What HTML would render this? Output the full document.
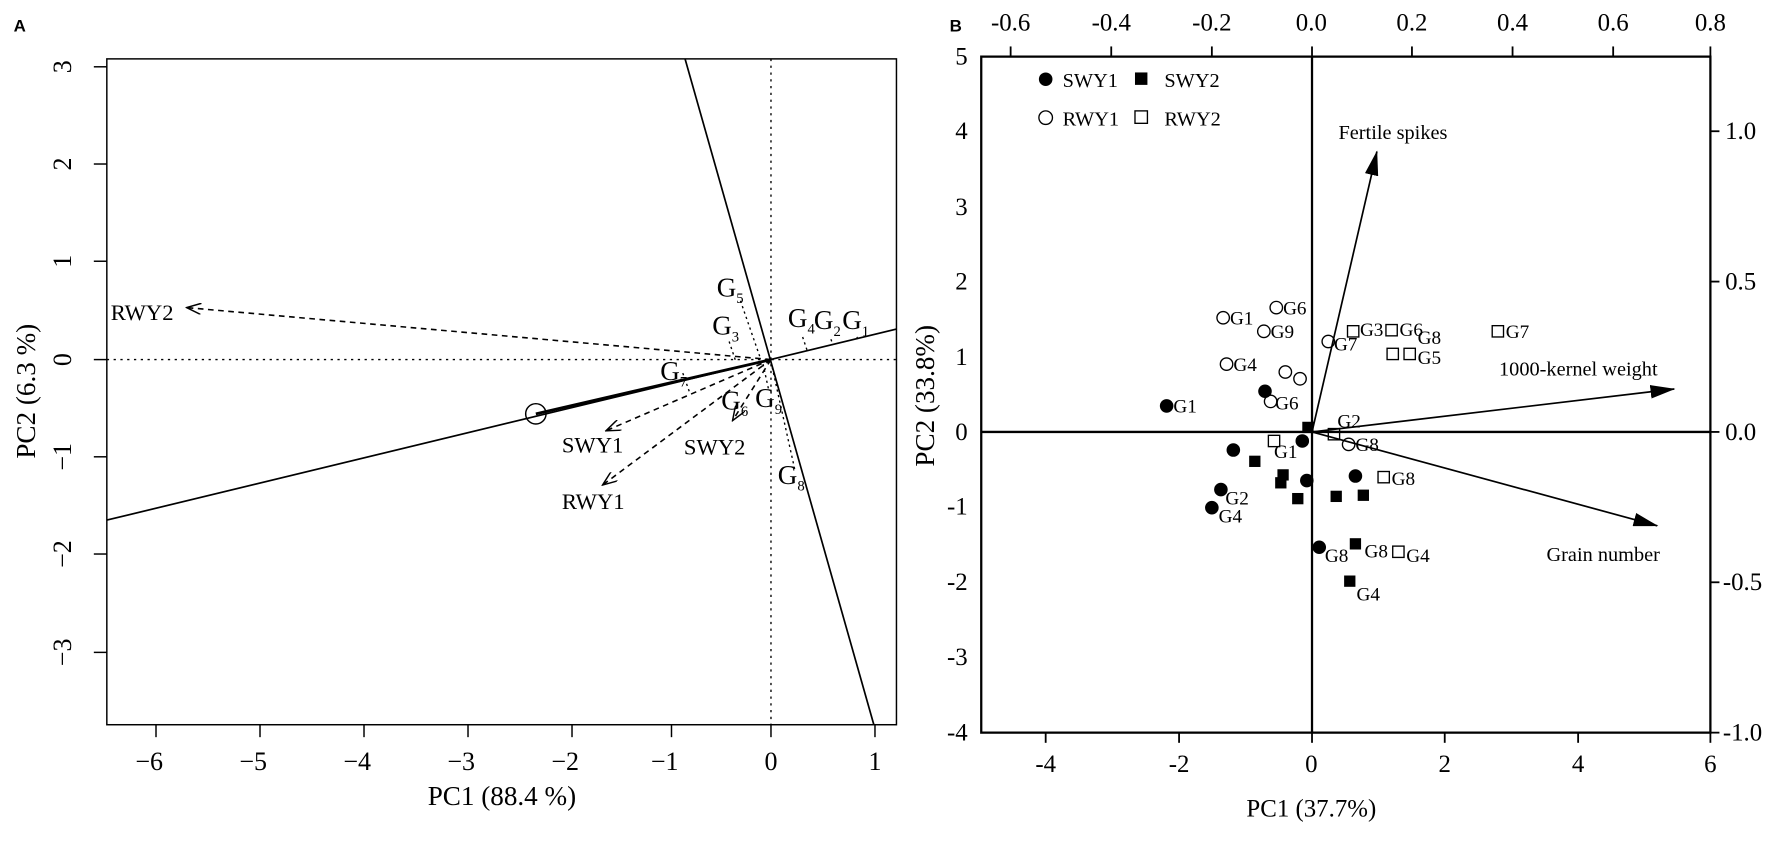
<!DOCTYPE html>
<html><head><meta charset="utf-8"><style>html,body{margin:0;padding:0;background:#fff;overflow:hidden}</style></head>
<body>
<svg width="1772" height="839" viewBox="0 0 1567.5 742" xmlns="http://www.w3.org/2000/svg" font-family="'Liberation Serif',serif">
<defs>
<marker id="oa" markerWidth="14" markerHeight="10" refX="13" refY="5" orient="auto" markerUnits="userSpaceOnUse"><path d="M0,0 L13,5 L0,10" fill="none" stroke="#000" stroke-width="1.3"/></marker>
<marker id="fa" markerWidth="22" markerHeight="12" refX="21" refY="6" orient="auto" markerUnits="userSpaceOnUse"><path d="M0,0 L22,6 L0,12 Z" fill="#000"/></marker>
</defs>
<text x="12" y="28" font-family="'Liberation Sans',sans-serif" font-weight="bold" font-size="15">A</text>
<text x="840" y="28" font-family="'Liberation Sans',sans-serif" font-weight="bold" font-size="15">B</text>

<!-- Panel A -->
<rect x="94.5" y="52" width="698.5" height="589" fill="none" stroke="#000" stroke-width="1.3"/>
<g stroke="#000" stroke-width="1.3">
<line x1="138" y1="641" x2="138" y2="652"/><line x1="230" y1="641" x2="230" y2="652"/><line x1="322" y1="641" x2="322" y2="652"/><line x1="414" y1="641" x2="414" y2="652"/><line x1="506" y1="641" x2="506" y2="652"/><line x1="594" y1="641" x2="594" y2="652"/><line x1="682" y1="641" x2="682" y2="652"/><line x1="774" y1="641" x2="774" y2="652"/>
<line x1="83" y1="59" x2="94.5" y2="59"/><line x1="83" y1="145" x2="94.5" y2="145"/><line x1="83" y1="231" x2="94.5" y2="231"/><line x1="83" y1="318" x2="94.5" y2="318"/><line x1="83" y1="404" x2="94.5" y2="404"/><line x1="83" y1="490" x2="94.5" y2="490"/><line x1="83" y1="577" x2="94.5" y2="577"/>
</g>
<g font-size="23" text-anchor="middle">
<text x="132" y="681">−6</text><text x="224" y="681">−5</text><text x="316" y="681">−4</text><text x="408" y="681">−3</text><text x="500" y="681">−2</text><text x="588" y="681">−1</text><text x="682" y="681">0</text><text x="774" y="681">1</text>
<text transform="translate(63,59) rotate(-90)">3</text><text transform="translate(63,145) rotate(-90)">2</text><text transform="translate(63,231) rotate(-90)">1</text><text transform="translate(63,318) rotate(-90)">0</text><text transform="translate(63,404) rotate(-90)">−1</text><text transform="translate(63,490) rotate(-90)">−2</text><text transform="translate(63,577) rotate(-90)">−3</text>
</g>
<text x="444" y="712" font-size="24" text-anchor="middle">PC1 (88.4 %)</text>
<text transform="translate(31,346) rotate(-90)" font-size="24" text-anchor="middle">PC2 (6.3 %)</text>
<g stroke="#000" stroke-width="1.2" stroke-dasharray="2,4">
<line x1="94.5" y1="318" x2="793" y2="318"/><line x1="682" y1="52" x2="682" y2="641"/>
</g>
<g stroke="#000" stroke-width="1.5">
<line x1="94.5" y1="460" x2="793" y2="291"/><line x1="606" y1="52" x2="773" y2="641"/>
<line x1="474" y1="366" x2="682" y2="318" stroke-width="2.5"/>
</g>
<circle cx="474" cy="366" r="9" fill="none" stroke="#000" stroke-width="1.3"/>
<g stroke="#000" stroke-width="1.4" stroke-dasharray="5,4" fill="none">
<line x1="682" y1="318" x2="165" y2="272" marker-end="url(#oa)"/>
<line x1="682" y1="318" x2="536" y2="381" marker-end="url(#oa)"/>
<line x1="682" y1="318" x2="533" y2="429" marker-end="url(#oa)"/>
<line x1="682" y1="318" x2="648" y2="372" marker-end="url(#oa)"/>
</g>
<g stroke="#000" stroke-width="1.2" stroke-dasharray="2,3">
<line x1="655" y1="266" x2="672" y2="315"/><line x1="645" y1="302" x2="651" y2="320"/><line x1="604" y1="330" x2="610" y2="347"/>
<line x1="710" y1="298" x2="714" y2="310"/><line x1="735" y1="300" x2="737" y2="305"/><line x1="758" y1="298" x2="760" y2="302"/>
<line x1="682" y1="320" x2="703" y2="415"/><line x1="675" y1="322" x2="680" y2="345"/>
</g>
<g font-size="24">
<text x="98" y="283" font-size="20">RWY2</text>
<text x="497" y="400" font-size="20">SWY1</text>
<text x="497" y="450" font-size="20">RWY1</text>
<text x="605" y="402" font-size="20">SWY2</text>
<text x="634" y="262">G<tspan font-size="13" dy="6">5</tspan></text>
<text x="630" y="296">G<tspan font-size="13" dy="6">3</tspan></text>
<text x="584" y="336">G<tspan font-size="13" dy="6">7</tspan></text>
<text x="697" y="289">G<tspan font-size="13" dy="6">4</tspan></text>
<text x="720" y="291">G<tspan font-size="13" dy="6">2</tspan></text>
<text x="745" y="291">G<tspan font-size="13" dy="6">1</tspan></text>
<text x="638" y="362">G<tspan font-size="13" dy="6">6</tspan></text>
<text x="668" y="360">G<tspan font-size="13" dy="6">9</tspan></text>
<text x="688" y="428">G<tspan font-size="13" dy="6">8</tspan></text>
</g>

<!-- Panel B -->
<rect x="868" y="50" width="645" height="598" fill="none" stroke="#000" stroke-width="2"/>
<g stroke="#000" stroke-width="2">
<line x1="868" y1="382" x2="1513" y2="382"/><line x1="1160.6" y1="50" x2="1160.6" y2="648"/>
</g>
<g stroke="#000" stroke-width="1.6">
<line x1="925" y1="648" x2="925" y2="657"/><line x1="1043" y1="648" x2="1043" y2="657"/><line x1="1160.6" y1="648" x2="1160.6" y2="657"/><line x1="1278" y1="648" x2="1278" y2="657"/><line x1="1396" y1="648" x2="1396" y2="657"/><line x1="1513" y1="648" x2="1513" y2="657"/>
<line x1="894" y1="50" x2="894" y2="41"/><line x1="983" y1="50" x2="983" y2="41"/><line x1="1072" y1="50" x2="1072" y2="41"/><line x1="1160.6" y1="50" x2="1160.6" y2="41"/><line x1="1249" y1="50" x2="1249" y2="41"/><line x1="1338" y1="50" x2="1338" y2="41"/><line x1="1427" y1="50" x2="1427" y2="41"/><line x1="1513" y1="50" x2="1513" y2="41"/>
<line x1="1513" y1="116" x2="1521" y2="116"/><line x1="1513" y1="249" x2="1521" y2="249"/><line x1="1513" y1="382" x2="1521" y2="382"/><line x1="1513" y1="515" x2="1521" y2="515"/><line x1="1513" y1="648" x2="1521" y2="648"/>
</g>
<g font-size="22" text-anchor="middle">
<text x="925" y="683">-4</text><text x="1043" y="683">-2</text><text x="1160" y="683">0</text><text x="1278" y="683">2</text><text x="1396" y="683">4</text><text x="1513" y="683">6</text>
<text x="894" y="27">-0.6</text><text x="983" y="27">-0.4</text><text x="1072" y="27">-0.2</text><text x="1160" y="27">0.0</text><text x="1249" y="27">0.2</text><text x="1338" y="27">0.4</text><text x="1427" y="27">0.6</text><text x="1513" y="27">0.8</text>
</g>
<g font-size="22" text-anchor="end">
<text x="856" y="57">5</text><text x="856" y="123">4</text><text x="856" y="190">3</text><text x="856" y="256">2</text><text x="856" y="323">1</text><text x="856" y="389">0</text><text x="856" y="455">-1</text><text x="856" y="522">-2</text><text x="856" y="588">-3</text><text x="856" y="655">-4</text>
</g>
<g font-size="22">
<text x="1526" y="123">1.0</text><text x="1526" y="256">0.5</text><text x="1526" y="389">0.0</text><text x="1524" y="522">-0.5</text><text x="1524" y="655">-1.0</text>
</g>
<text x="1160" y="722" font-size="22" text-anchor="middle">PC1 (37.7%)</text>
<text transform="translate(826,350) rotate(-90)" font-size="24" text-anchor="middle">PC2 (33.8%)</text>
<!-- arrows -->
<g stroke="#000" stroke-width="1.5">
<line x1="1160.6" y1="382" x2="1218" y2="134" marker-end="url(#fa)"/>
<line x1="1160.6" y1="382" x2="1481" y2="344" marker-end="url(#fa)"/>
<line x1="1160.6" y1="382" x2="1466" y2="465" marker-end="url(#fa)"/>
</g>
<g font-size="18">
<text x="1184" y="123">Fertile spikes</text>
<text x="1326" y="332">1000-kernel weight</text>
<text x="1368" y="496">Grain number</text>
</g>
<!-- legend -->
<circle cx="925" cy="70" r="6" fill="#000"/><text x="940" y="77" font-size="18">SWY1</text>
<rect x="1004" y="64" width="11" height="11" fill="#000"/><text x="1030" y="77" font-size="18">SWY2</text>
<circle cx="925" cy="104" r="6" fill="none" stroke="#000" stroke-width="1.2"/><text x="940" y="111" font-size="18">RWY1</text>
<rect x="1004" y="98" width="11" height="11" fill="none" stroke="#000" stroke-width="1.2"/><text x="1030" y="111" font-size="18">RWY2</text>
<!-- open markers -->
<g fill="none" stroke="#000" stroke-width="1.2">
<circle cx="1082" cy="281" r="5.5"/><circle cx="1129" cy="272" r="5.5"/><circle cx="1118" cy="293" r="5.5"/><circle cx="1085" cy="322" r="5.5"/><circle cx="1137" cy="329" r="5.5"/><circle cx="1150" cy="335" r="5.5"/><circle cx="1124" cy="355" r="5.5"/><circle cx="1175" cy="302" r="5.5"/><circle cx="1193" cy="393" r="5.5"/>
<rect x="1122" y="385" width="10" height="10"/><rect x="1175" y="379" width="10" height="10"/><rect x="1192" y="288" width="10" height="10"/><rect x="1226" y="287" width="10" height="10"/><rect x="1219" y="417" width="10" height="10"/><rect x="1227" y="308" width="10" height="10"/><rect x="1242" y="308" width="10" height="10"/><rect x="1320" y="288" width="10" height="10"/><rect x="1232" y="483" width="10" height="10"/>
</g>
<g fill="#000">
<circle cx="1032" cy="359" r="6"/><circle cx="1119" cy="346" r="6"/><circle cx="1152" cy="390" r="6"/><circle cx="1091" cy="398" r="6"/><circle cx="1156" cy="425" r="6"/><circle cx="1080" cy="433" r="6"/><circle cx="1072" cy="449" r="6"/><circle cx="1199" cy="421" r="6"/><circle cx="1167" cy="484" r="6"/>
<rect x="1152" y="373" width="10" height="10"/><rect x="1105" y="403" width="10" height="10"/><rect x="1130" y="415" width="10" height="10"/><rect x="1128" y="422" width="10" height="10"/><rect x="1143" y="436" width="10" height="10"/><rect x="1177" y="434" width="10" height="10"/><rect x="1201" y="433" width="10" height="10"/><rect x="1194" y="476" width="10" height="10"/><rect x="1189" y="509" width="10" height="10"/>
</g>
<g font-size="17">
<text x="1088" y="287">G1</text><text x="1135" y="278">G6</text><text x="1124" y="299">G9</text><text x="1091" y="328">G4</text><text x="1128" y="362">G6</text><text x="1180" y="310">G7</text><text x="1199" y="399">G8</text>
<text x="1038" y="365">G1</text><text x="1084" y="446">G2</text><text x="1078" y="462">G4</text><text x="1172" y="497">G8</text>
<text x="1127" y="405">G1</text><text x="1183" y="378">G2</text><text x="1203" y="297">G3</text><text x="1238" y="297">G6</text><text x="1254" y="304">G8</text><text x="1254" y="322">G5</text><text x="1332" y="299">G7</text><text x="1231" y="429">G8</text><text x="1244" y="497">G4</text>
<text x="1207" y="493">G8</text><text x="1200" y="531">G4</text>
</g>
</svg>
</body></html>
